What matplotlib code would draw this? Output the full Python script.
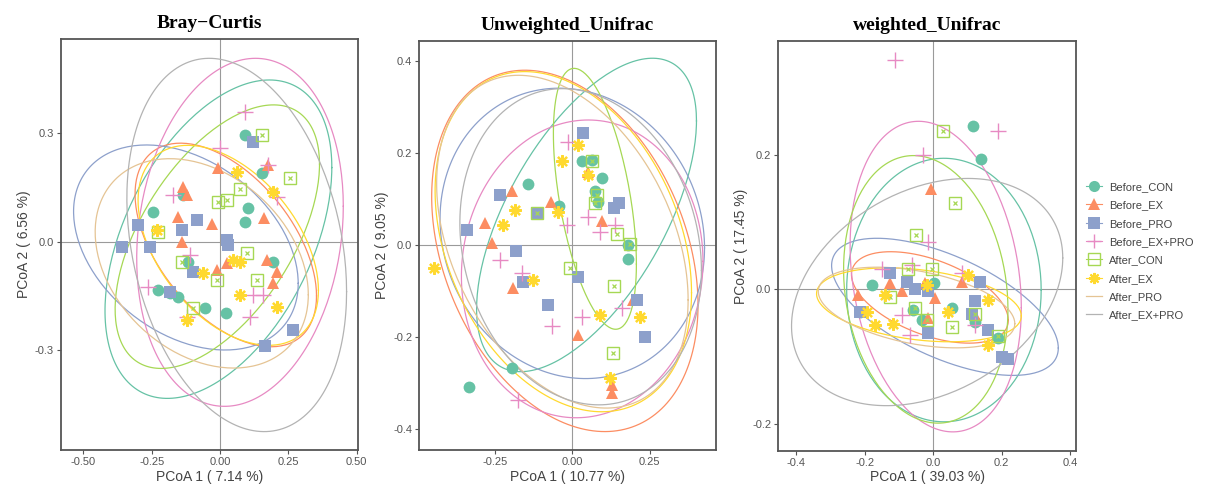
import matplotlib
matplotlib.use('Agg')
import matplotlib.pyplot as plt
from matplotlib.lines import Line2D
import numpy as np

plt.rcParams['font.family'] = ['Liberation Sans', 'DejaVu Sans']

groups = ['Before_CON', 'Before_EX', 'Before_PRO', 'Before_EX+PRO',
          'After_CON', 'After_EX', 'After_PRO', 'After_EX+PRO']
colors = ['#66C2A5', '#FC8D62', '#8DA0CB', '#E78AC3',
          '#A6D854', '#FFD92F', '#E5C494', '#B3B3B3']

titles = ['Bray\u2212Curtis', 'Unweighted_Unifrac', 'weighted_Unifrac']
xlabels = ['PCoA 1 ( 7.14 %)', 'PCoA 1 ( 10.77 %)', 'PCoA 1 ( 39.03 %)']
ylabels = ['PCoA 2 ( 6.56 %)', 'PCoA 2 ( 9.05 %)', 'PCoA 2 ( 17.45 %)']

# ---- Bray-Curtis points (x, y)
bc_before_con = [(0.091, 0.296), (0.153, 0.189), (0.104, 0.093), (0.091, 0.055), (-0.136, 0.129),
                 (-0.244, 0.083), (0.195, -0.055), (-0.226, -0.134), (-0.183, -0.143), (-0.153, -0.152),
                 (-0.055, -0.184), (0.022, -0.197), (-0.116, -0.055)]
bc_before_ex = [(-0.006, 0.203), (-0.134, 0.152), (-0.122, 0.129), (-0.153, 0.069), (-0.030, 0.049),
                (0.162, 0.065), (0.177, 0.212), (-0.140, 0.0), (-0.012, -0.078), (0.025, -0.060),
                (0.171, -0.051), (0.207, -0.083), (0.195, -0.115)]
bc_before_pro = [(0.122, 0.277), (-0.085, 0.060), (-0.140, 0.032), (-0.299, 0.046), (0.025, 0.005),
                 (-0.360, -0.014), (-0.256, -0.014), (-0.098, -0.083), (-0.183, -0.139), (0.268, -0.245),
                 (0.165, -0.289), (0.030, -0.010)]
bc_before_expro = [(0.091, 0.360), (0.0, 0.259), (-0.171, 0.129), (0.207, 0.125), (0.177, 0.212),
                   (-0.110, -0.037), (-0.262, -0.125), (0.122, -0.148), (0.158, -0.148), (0.110, -0.208),
                   (-0.122, -0.208)]
bc_after_con = [(0.153, 0.296), (0.256, 0.176), (0.073, 0.145), (0.025, 0.116), (-0.006, 0.111),
                (-0.226, 0.028), (-0.140, -0.055), (0.134, -0.106), (-0.012, -0.106), (-0.098, -0.184),
                (0.098, -0.032)]
bc_after_ex = [(0.195, 0.139), (0.061, 0.194), (-0.232, 0.032), (0.073, -0.055), (0.049, -0.051),
               (0.207, -0.180), (0.073, -0.148), (-0.061, -0.088), (-0.122, -0.217)]

# ---- Unweighted Unifrac points
uu_before_con = [(-0.142, 0.132), (-0.043, 0.085), (0.030, 0.181), (0.063, 0.184), (0.095, 0.145),
                 (0.073, 0.116), (0.084, 0.094), (0.181, 0.0), (0.181, -0.030), (-0.196, -0.267),
                 (-0.335, -0.309)]
uu_before_ex = [(-0.196, 0.116), (-0.069, 0.094), (-0.282, 0.047), (-0.260, 0.004), (0.095, 0.051),
                (-0.190, -0.094), (0.019, -0.195), (0.127, -0.322), (0.127, -0.304), (0.197, -0.119),
                (0.052, 0.159)]
uu_before_pro = [(0.035, 0.242), (-0.235, 0.108), (-0.341, 0.033), (-0.182, -0.014), (-0.158, -0.080),
                 (-0.077, -0.130), (0.019, -0.069), (0.135, 0.080), (0.151, 0.090), (0.235, -0.199),
                 (0.208, -0.119), (-0.115, 0.069)]
uu_before_expro = [(-0.013, 0.224), (-0.018, 0.043), (0.050, 0.061), (0.089, 0.029), (-0.233, -0.033),
                   (-0.163, -0.061), (-0.066, -0.177), (0.030, -0.156), (0.159, -0.137), (-0.174, -0.336),
                   (0.138, 0.043)]
uu_after_con = [(0.063, 0.181), (0.079, 0.108), (0.143, 0.023), (0.186, 0.001), (-0.007, -0.051),
                (0.135, -0.090), (0.132, -0.235), (0.073, 0.090), (-0.115, 0.069)]
uu_after_ex = [(0.019, 0.217), (-0.034, 0.181), (-0.185, 0.076), (-0.223, 0.043), (-0.126, -0.076),
               (0.089, -0.152), (0.218, -0.156), (-0.448, -0.051), (0.122, -0.289), (0.052, 0.152),
               (-0.045, 0.072)]

# ---- weighted Unifrac points
wu_before_con = [(0.117, 0.243), (0.139, 0.194), (-0.180, 0.007), (0.003, 0.009), (-0.058, -0.031),
                 (0.054, -0.028), (0.122, -0.048), (0.190, -0.073), (-0.214, -0.033), (-0.034, -0.046)]
wu_before_ex = [(-0.007, 0.149), (-0.219, -0.008), (-0.126, 0.009), (-0.024, 0.009), (0.005, -0.013),
                (0.083, 0.011), (0.122, -0.038), (-0.015, -0.043), (-0.092, -0.003)]
wu_before_pro = [(-0.126, 0.024), (-0.078, 0.011), (-0.053, 0.001), (-0.015, -0.003), (0.122, -0.018),
                 (0.136, 0.011), (-0.214, -0.033), (0.161, -0.061), (0.200, -0.100), (0.219, -0.103),
                 (-0.015, -0.065), (0.112, -0.036)]
wu_before_expro = [(-0.112, 0.341), (0.190, 0.235), (-0.029, 0.200), (-0.015, 0.071), (-0.151, 0.031),
                   (-0.063, 0.036), (0.083, 0.024), (-0.092, -0.038), (-0.068, -0.068), (0.122, -0.053)]
wu_after_con = [(0.029, 0.235), (0.063, 0.128), (-0.051, 0.081), (-0.073, 0.030), (-0.005, 0.031),
                (-0.126, -0.011), (-0.053, -0.028), (-0.019, -0.046), (0.054, -0.056), (0.190, -0.070),
                (0.122, -0.036)]
wu_after_ex = [(-0.141, -0.008), (-0.195, -0.033), (-0.019, 0.006), (0.161, -0.016), (0.102, 0.021),
               (-0.117, -0.051), (0.161, -0.083), (0.044, -0.033), (-0.170, -0.053)]

# ellipse per group: (cx, cy, half-range x, half-range y, tilt corr)
bc_ellipses = [(-0.006, 0.007, 0.415, 0.441, 0.45), (0.021, -0.009, 0.332, 0.282, -0.5),
               (-0.125, -0.016, 0.411, 0.284, -0.35), (0.073, 0.026, 0.378, 0.482, 0.15),
               (-0.010, 0.014, 0.374, 0.365, 0.55), (0.030, -0.010, 0.330, 0.277, -0.45),
               (-0.067, -0.060, 0.390, 0.290, -0.3), (0.061, -0.009, 0.402, 0.517, -0.25)]
uu_ellipses = [(0.046, 0.065, 0.355, 0.340, 0.6), (-0.024, -0.013, 0.430, 0.392, -0.3),
               (0.0, 0.025, 0.427, 0.315, -0.1), (0.032, -0.052, 0.390, 0.323, 0.05),
               (0.073, 0.100, 0.134, 0.283, -0.5), (-0.029, 0.007, 0.414, 0.369, -0.3),
               (-0.032, 0.007, 0.406, 0.361, -0.35), (0.027, -0.004, 0.390, 0.343, -0.15)]
wu_ellipses = [(0.031, -0.001, 0.284, 0.196, 0.0), (-0.010, -0.012, 0.229, 0.068, -0.5),
               (0.034, -0.026, 0.331, 0.102, -0.6), (0.007, 0.019, 0.250, 0.231, -0.2),
               (-0.022, 0.0, 0.240, 0.199, -0.15), (-0.042, -0.023, 0.299, 0.055, -0.3),
               (-0.049, -0.027, 0.287, 0.060, -0.4), (-0.018, -0.004, 0.396, 0.169, 0.3)]

panels = [
    ([bc_before_con, bc_before_ex, bc_before_pro, bc_before_expro, bc_after_con, bc_after_ex], bc_ellipses,
     (-0.582, 0.505), (-0.577, 0.5615), [-0.5, -0.25, 0, 0.25, 0.5], ['-0.50', '-0.25', '0.00', '0.25', '0.50'],
     [-0.3, 0, 0.3], ['-0.3', '0.0', '0.3']),
    ([uu_before_con, uu_before_ex, uu_before_pro, uu_before_expro, uu_after_con, uu_after_ex], uu_ellipses,
     (-0.494, 0.464), (-0.445, 0.443), [-0.25, 0, 0.25], ['-0.25', '0.00', '0.25'],
     [-0.4, -0.2, 0, 0.2, 0.4], ['-0.4', '-0.2', '0.0', '0.2', '0.4']),
    ([wu_before_con, wu_before_ex, wu_before_pro, wu_before_expro, wu_after_con, wu_after_ex], wu_ellipses,
     (-0.4526, 0.4166), (-0.240, 0.369), [-0.4, -0.2, 0, 0.2, 0.4], ['-0.4', '-0.2', '0.0', '0.2', '0.4'],
     [-0.2, 0, 0.2], ['-0.2', '0.0', '0.2']),
]

positions = [[0.0505, 0.0816, 0.2459, 0.8388],
             [0.3471, 0.0816, 0.2456, 0.8353],
             [0.6443, 0.0802, 0.2464, 0.8355]]

fig = plt.figure(figsize=(12.08, 4.9), dpi=100)

t = np.linspace(0, 2 * np.pi, 200)


def draw_points(ax, pts, gi):
    xs = [p[0] for p in pts]
    ys = [p[1] for p in pts]
    c = colors[gi]
    if gi == 0:
        ax.plot(xs, ys, 'o', color=c, ms=8.5, mew=0, zorder=3)
    elif gi == 1:
        ax.plot(xs, ys, '^', color=c, ms=9, mew=0, zorder=3)
    elif gi == 2:
        ax.plot(xs, ys, 's', color=c, ms=8.5, mew=0, zorder=3)
    elif gi == 3:
        ax.plot(xs, ys, '+', color=c, ms=11, mew=1.0, zorder=3)
    elif gi == 4:
        ax.plot(xs, ys, 's', color=c, ms=8.5, mfc='none', mew=1.0, zorder=3)
        ax.plot(xs, ys, 'x', color=c, ms=3.5, mew=0.9, zorder=3)
    elif gi == 5:
        ax.plot(xs, ys, marker=(8, 2, 0), ls='none', color=c, ms=9, mew=1.6, zorder=3)


for i, (pts_list, ells, xl, yl, xt, xtl, yt, ytl) in enumerate(panels):
    ax = fig.add_axes(positions[i])
    ax.axhline(0, color='#9a9a9a', lw=0.8, zorder=1)
    ax.axvline(0, color='#9a9a9a', lw=0.8, zorder=1)
    for gi, pts in enumerate(pts_list):
        draw_points(ax, pts, gi)
    # 95% style ellipses per group
    for gi, (cx, cy, rx, ry, rho) in enumerate(ells):
        ex = cx + rx * np.cos(t)
        ey = cy + ry * (rho * np.cos(t) + np.sqrt(1 - rho ** 2) * np.sin(t))
        ax.plot(ex, ey, color=colors[gi], lw=0.9, zorder=2)
    ax.set_xlim(xl)
    ax.set_ylim(yl)
    ax.set_xticks(xt)
    ax.set_xticklabels(xtl)
    ax.set_yticks(yt)
    ax.set_yticklabels(ytl)
    ax.tick_params(length=3, width=0.8, color='#555555', labelcolor='#555555', labelsize=8, pad=2)
    for s in ax.spines.values():
        s.set_color('#555555')
        s.set_linewidth(1.3)
    ax.set_xlabel(xlabels[i], fontsize=10, color='#444444', labelpad=2)
    ax.set_ylabel(ylabels[i], fontsize=10, color='#444444', labelpad=3)
    ax.set_title(titles[i], fontsize=14, fontweight='bold', family='Liberation Serif', pad=8)

handles = [
    Line2D([0], [0], color=colors[0], marker='o', ms=8, lw=0.8, mew=0),
    Line2D([0], [0], color=colors[1], marker='^', ms=8, lw=0.8, mew=0),
    Line2D([0], [0], color=colors[2], marker='s', ms=8, lw=0.8, mew=0),
    Line2D([0], [0], color=colors[3], marker='+', ms=10, lw=0.8, mew=1.0),
    Line2D([0], [0], color=colors[4], marker='s', ms=8, lw=0.8, mfc='none', mew=1.0),
    Line2D([0], [0], color=colors[5], marker=(8, 2, 0), ms=8, lw=0.8, mew=1.5),
    Line2D([0], [0], color=colors[6], lw=0.9),
    Line2D([0], [0], color=colors[7], lw=0.9),
]
fig.legend(handles, groups, loc='upper left', bbox_to_anchor=(1076 / 1208, 1 - 172 / 490),
           frameon=False, fontsize=8, labelspacing=0.75, handlelength=1.4, handletextpad=0.7,
           labelcolor='#444444')

plt.savefig('out.png', dpi=100)
